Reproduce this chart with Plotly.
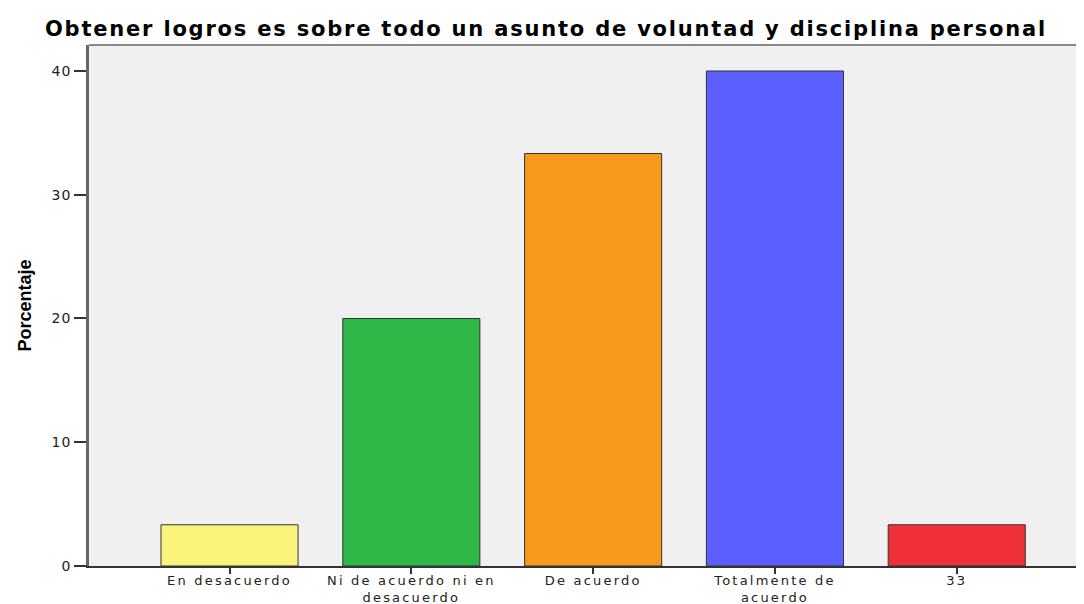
import plotly.graph_objects as go

# Respuestas y porcentajes
categorias = ["En desacuerdo", "Ni de acuerdo ni en<br>desacuerdo", "De acuerdo",
              "Totalmente de<br>acuerdo", "33"]
porcentajes = [3.33, 20.0, 33.33, 40.0, 3.33]
colores = ["#FAF57A", "#2EB848", "#F8981D", "#5B5FFF", "#F0313A"]
y_ticks = [0, 10, 20, 30, 40]

titulo = "Obtener logros es sobre todo un asunto de voluntad y disciplina personal"


def espaciado(txt, px):
    # texto más ancho, como en el original
    return "<br>".join(f'<span style="letter-spacing:{px}px">{t}</span>'
                       for t in txt.split("<br>"))


fig = go.Figure(go.Bar(
    x=list(range(len(categorias))),
    y=porcentajes,
    width=0.754,
    marker=dict(color=colores, line=dict(color="#333333", width=1)),
))

# la página añade 8 px de margen: se descuentan aquí
fig.update_layout(
    width=1076, height=596,
    margin=dict(l=81, r=0, t=37, b=38, pad=0),
    paper_bgcolor="white",
    plot_bgcolor="#F0F0F0",
    showlegend=False,
    font=dict(family="DejaVu Sans", size=13, color="#222222"),
    title=dict(
        text="<b>" + espaciado(titulo, 1.8) + "</b>",
        font=dict(family="DejaVu Sans", size=21, color="black"),
        x=0.5, xanchor="center", y=0.966, yanchor="middle",
    ),
)

fig.update_xaxes(
    tickmode="array", tickvals=list(range(len(categorias))),
    ticktext=[espaciado(c, 2.2) for c in categorias],
    range=[-0.773, 4.70], automargin=False,
    showline=True, linecolor="#333333", linewidth=1.5,
    ticks="outside", ticklen=6, tickcolor="#333333", tickwidth=2,
    ticklabelstandoff=-4,
    showgrid=False, zeroline=False,
    tickfont=dict(size=13),
)
fig.update_yaxes(
    range=[0, 42.1], tickvals=y_ticks, automargin=False,
    ticktext=[espaciado(str(v), 1) for v in y_ticks],
    showline=True, linecolor="#666666", linewidth=2.5,
    ticks="outside", ticklen=12, tickcolor="#333333", tickwidth=2,
    showgrid=False, zeroline=False,
    tickfont=dict(size=14),
    title=dict(text="<b>Porcentaje</b>", standoff=16,
               font=dict(family="Liberation Sans", size=18, color="black")),
)

# borde superior del área de gráfico
fig.add_shape(type="line", xref="paper", yref="paper", x0=0, x1=1, y0=1, y1=1,
              line=dict(color="#888888", width=2))

fig.write_html("out.html")
